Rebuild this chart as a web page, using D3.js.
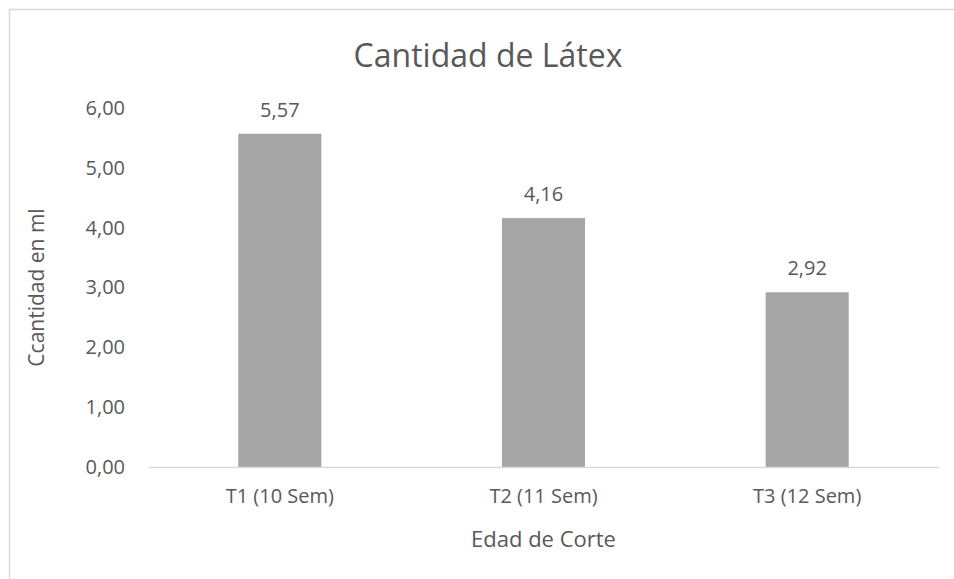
<!DOCTYPE html>
<html>
<head>
<meta charset="utf-8">
<script src="https://cdn.jsdelivr.net/npm/d3@7"></script>
<style>
  body { margin: 0; background: #fff; }
  text { font-family: "Open Sans", sans-serif; fill: #595959; }
</style>
</head>
<body>
<div id="chart"></div>
<script>
var categories = ["T1 (10 Sem)", "T2 (11 Sem)", "T3 (12 Sem)"];
var values = [5.57, 4.16, 2.92];
var yTicks = [0, 1, 2, 3, 4, 5, 6];

var W = 954, H = 579;
var margin = { top: 108, right: 15, bottom: 112, left: 148 };

var svg = d3.select("#chart").append("svg")
    .attr("width", W)
    .attr("height", H);

// chart frame (only left and top edges are in view)
svg.append("rect")
    .attr("x", 9.5).attr("y", 9.5)
    .attr("width", 980).attr("height", 600)
    .attr("fill", "none")
    .attr("stroke", "#d9d9d9")
    .attr("stroke-width", 1.5);

var g = svg.append("g")
    .attr("transform", "translate(" + margin.left + "," + margin.top + ")");

var w = 939 - margin.left,
    h = 467 - margin.top;

var x = d3.scaleBand()
    .domain(categories)
    .range([0, w])
    .paddingInner(0.685)
    .paddingOuter(0.3425);

var y = d3.scaleLinear()
    .domain([0, 6])
    .range([h, 0]);

var fmt = function (v) { return d3.format(".2f")(v).replace(".", ","); };

// y axis labels only
var yAxis = d3.axisLeft(y).tickValues(yTicks).tickSize(0).tickPadding(23).tickFormat(fmt);
var gy = g.append("g").call(yAxis);
gy.select(".domain").remove();
gy.selectAll("text").style("font-size", "20px").attr("fill", "#595959");

// bars
g.selectAll(".bar")
    .data(values)
    .enter()
    .append("rect")
    .attr("class", "bar")
    .attr("x", function (d, i) { return x(categories[i]); })
    .attr("y", function (d) { return y(d); })
    .attr("width", x.bandwidth())
    .attr("height", function (d) { return h - y(d); })
    .attr("fill", "#a5a5a5");

// value labels
g.selectAll(".val")
    .data(values)
    .enter()
    .append("text")
    .attr("x", function (d, i) { return x(categories[i]) + x.bandwidth() / 2; })
    .attr("y", function (d) { return y(d) - 17; })
    .attr("text-anchor", "middle")
    .style("font-size", "20px")
    .text(fmt);

// x axis
var xAxis = d3.axisBottom(x).tickSize(0).tickPadding(22);
var gx = g.append("g")
    .attr("transform", "translate(0," + h + ")")
    .call(xAxis);
gx.select(".domain").attr("stroke", "#d9d9d9").attr("stroke-width", 1.5);
gx.selectAll("text").style("font-size", "20px").attr("fill", "#595959");

// titles
svg.append("text")
    .attr("x", 488).attr("y", 67)
    .attr("text-anchor", "middle")
    .style("font-size", "32px")
    .text("Cantidad de Látex");

svg.append("text")
    .attr("x", margin.left + w / 2).attr("y", 547)
    .attr("text-anchor", "middle")
    .style("font-size", "22px")
    .text("Edad de Corte");

svg.append("text")
    .attr("transform", "translate(44," + (margin.top + h / 2) + ") rotate(-90)")
    .attr("text-anchor", "middle")
    .style("font-size", "21px")
    .text("Ccantidad en ml");
</script>
</body>
</html>
